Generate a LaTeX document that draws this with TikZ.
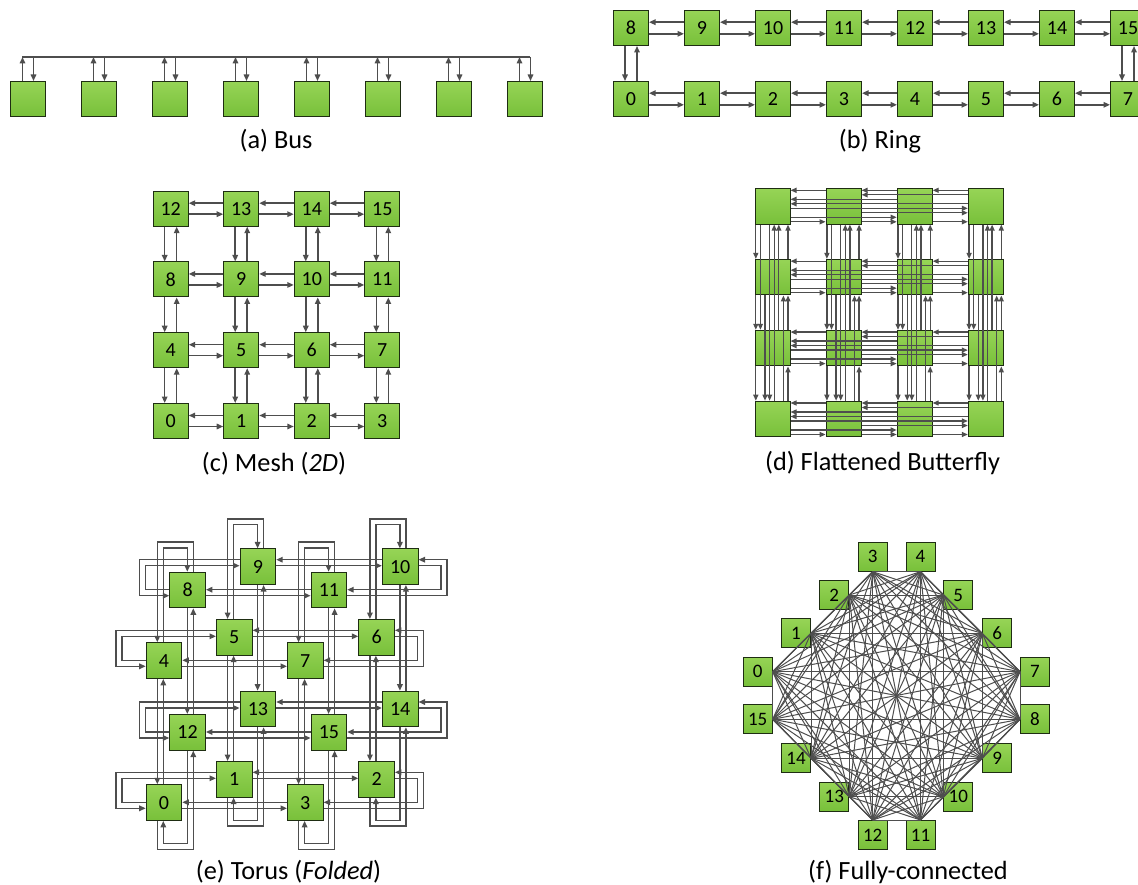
\documentclass[tikz,border=0pt]{standalone}
\usepackage{fontspec}
\setmainfont{Carlito}
\usetikzlibrary{arrows.meta,calc}
\definecolor{gtop}{RGB}{150,212,86}
\definecolor{gbot}{RGB}{120,192,58}
\definecolor{bdr}{RGB}{30,45,18}
\definecolor{lc}{RGB}{78,78,78}
\tikzset{
  nd/.style={draw=bdr, line width=1pt, top color=gtop, bottom color=gbot, minimum width=35pt, minimum height=35pt, inner sep=0pt, anchor=north west, font=\fontsize{20}{20}\selectfont},
  fcn/.style={nd, minimum width=29pt, minimum height=29pt, font=\fontsize{19}{19}\selectfont},
  ln/.style={draw=lc, line width=1.5pt},
  ar/.style={ln, -{Triangle[length=6.5pt,width=5.5pt]}},
  fl/.style={draw=lc, line width=1pt},
  captxt/.style={font=\fontsize{26.3}{26.3}\selectfont, anchor=center},
}
\newcommand\FBl[4]{\draw[ar] ($(f#1#2.north west)+(0,{2.3+4.5*#4})$) -- ($(f#1#3.north east)+(0,{2.3+4.5*#4})$);}
\newcommand\FBr[4]{\draw[ar] ($(f#1#2.north east)+(0,{2.3+4.5*#4})$) -- ($(f#1#3.north west)+(0,{2.3+4.5*#4})$);}
\newcommand\FBd[4]{\draw[ar] ($(f#2#1.south west)+({1.3+4.6*#4},0)$) -- ($(f#3#1.north west)+({1.3+4.6*#4},0)$);}
\newcommand\FBu[4]{\draw[ar] ($(f#2#1.north west)+({1.3+4.6*#4},0)$) -- ($(f#3#1.south west)+({1.3+4.6*#4},0)$);}
\newcommand\TRow[6]{%
  \pgfmathsetmacro\tya{#2-12}\pgfmathsetmacro\tyb{#2-6}\pgfmathsetmacro\tyc{#2+18}\pgfmathsetmacro\tyd{#2+24}%
  \pgfmathsetmacro\txli{#1-23.7}\pgfmathsetmacro\txlo{#1-29.6}%
  \pgfmathsetmacro\txri{#1+248.2+23.7}\pgfmathsetmacro\txro{#1+248.2+29.6}%
  \draw[ar] (t#5.west |- 0,\tya) -- (t#4.east |- 0,\tya);
  \draw[ar] (t#4.east |- 0,\tyb) -- (t#5.west |- 0,\tyb);
  \draw[ar] (t#6.west |- 0,\tyc) -- (t#3.east |- 0,\tyc);
  \draw[ar] (t#3.east |- 0,\tyd) -- (t#6.west |- 0,\tyd);
  \draw[ar] (t#3.west |- 0,\tyc) -| (\txli,\tyb) -- (t#4.west |- 0,\tyb);
  \draw[ar] (t#4.west |- 0,\tya) -| (\txlo,\tyd) -- (t#3.west |- 0,\tyd);
  \draw[ar] (t#5.east |- 0,\tyb) -| (\txri,\tyc) -- (t#6.east |- 0,\tyc);
  \draw[ar] (t#6.east |- 0,\tyd) -| (\txro,\tya) -- (t#5.east |- 0,\tya);
}
\newcommand\TCol[7]{%
  \pgfmathsetmacro\txa{#1-12}\pgfmathsetmacro\txb{#1-6}\pgfmathsetmacro\txc{#1+18}\pgfmathsetmacro\txd{#1+24}%
  \pgfmathsetmacro\tybi{#2+23.7}\pgfmathsetmacro\tybo{#2+29.6}\pgfmathsetmacro\tyti{#3-23.7}\pgfmathsetmacro\tyto{#3-29.6}%
  \draw[ar] (\txa,0 |- t#5.south) -- (\txa,0 |- t#4.north);
  \draw[ar] (\txb,0 |- t#4.north) -- (\txb,0 |- t#5.south);
  \draw[ar] (\txc,0 |- t#6.south) -- (\txc,0 |- t#7.north);
  \draw[ar] (\txd,0 |- t#7.north) -- (\txd,0 |- t#6.south);
  \draw[ar] (\txc,0 |- t#7.south) |- (\txb,\tybi) -- (\txb,0 |- t#4.south);
  \draw[ar] (\txa,0 |- t#4.south) |- (\txd,\tybo) -- (\txd,0 |- t#7.south);
  \draw[ar] (\txb,0 |- t#5.north) |- (\txc,\tyti) -- (\txc,0 |- t#6.north);
  \draw[ar] (\txd,0 |- t#6.north) |- (\txa,\tyto) -- (\txa,0 |- t#5.north);
}
\begin{document}
\begin{tikzpicture}[x=1pt,y=-1pt]
\clip (0,0) rectangle (1138,885);
\fill[white] (0,0) rectangle (1138,885);
% ---------------- (a) Bus
\foreach \i in {0,...,7}{\node[nd] (b\i) at ({10+71*\i},81) {};}
\coordinate (busL) at (22,57);
\coordinate (busR) at (530,57);
\draw[ln] (busL) -- (busR);
\foreach \i in {0,...,7}{
  \path (b\i.north) +(-5.5,0) coordinate (bu\i) +(5.5,0) coordinate (bd\i);
  \draw[ar] (bu\i) -- (bu\i |- busL);
  \draw[ar] (bd\i |- busL) -- (bd\i);
}
\node[captxt] (capa) at (276,141) {(a) Bus};
% ---------------- (b) Ring
\foreach \i in {0,...,7}{
  \pgfmathtruncatemacro\k{\i+8}
  \node[nd] (r\i) at ({613+71*\i},81) {\i};
  \node[nd] (r\k) at ({613+71*\i},10) {\k};
}
\foreach \a/\b in {0/1,1/2,2/3,3/4,4/5,5/6,6/7,8/9,9/10,10/11,11/12,12/13,13/14,14/15}{
  \draw[ar] ($(r\b.west)+(0,-5.8)$) -- ($(r\a.east)+(0,-5.8)$);
  \draw[ar] ($(r\a.east)+(0,5.8)$) -- ($(r\b.west)+(0,5.8)$);
}
\draw[ar] ($(r8.south)+(-6,0)$) -- ($(r0.north)+(-6,0)$);
\draw[ar] ($(r0.north)+(6,0)$) -- ($(r8.south)+(6,0)$);
\draw[ar] ($(r15.south)+(-6,0)$) -- ($(r7.north)+(-6,0)$);
\draw[ar] ($(r7.north)+(6,0)$) -- ($(r15.south)+(6,0)$);
\node[captxt] (capb) at (880,141) {(b) Ring};
% ---------------- (c) Mesh
\foreach \r in {0,...,3}{\foreach \c in {0,...,3}{
  \pgfmathtruncatemacro\n{4*\r+\c}
  \node[nd] (m\n) at ({152.7+70.53*\c},{403-70.77*\r}) {\n};
}}
\foreach \r in {0,...,3}{\foreach \c in {0,1,2}{
  \pgfmathtruncatemacro\a{4*\r+\c}\pgfmathtruncatemacro\b{\a+1}
  \draw[ar] ($(m\b.west)+(0,-5.5)$) -- ($(m\a.east)+(0,-5.5)$);
  \draw[ar] ($(m\a.east)+(0,5.5)$) -- ($(m\b.west)+(0,5.5)$);
}}
\foreach \r in {0,1,2}{\foreach \c in {0,...,3}{
  \pgfmathtruncatemacro\a{4*\r+\c}\pgfmathtruncatemacro\u{\a+4}
  \draw[ar] ($(m\u.south)+(-6,0)$) -- ($(m\a.north)+(-6,0)$);
  \draw[ar] ($(m\a.north)+(6,0)$) -- ($(m\u.south)+(6,0)$);
}}
\node[captxt] (capc) at (274,464) {(c) Mesh (\textit{2D})};
% ---------------- (d) Flattened Butterfly
\foreach \r in {0,...,3}{\foreach \c in {0,...,3}{
  \node[nd, minimum height=35.6pt] (f\r\c) at ({754.5+71.1*\c},{188+70.9*\r}) {};
}}
\begin{scope}[ar/.append style={line width=1.3pt, -{Triangle[length=6pt,width=5pt]}}]
\foreach \r in {0,...,3}{
  \FBl{\r}{1}{0}{0}\FBl{\r}{2}{1}{0}\FBl{\r}{3}{2}{0}
  \FBl{\r}{3}{1}{1}
  \FBl{\r}{2}{0}{2}
  \FBl{\r}{3}{0}{3}
  \FBr{\r}{0}{3}{4}
  \FBr{\r}{1}{3}{5}
  \FBr{\r}{0}{2}{6}
  \FBr{\r}{0}{1}{7}\FBr{\r}{1}{2}{7}\FBr{\r}{2}{3}{7}
}
\foreach \c in {0,...,3}{
  \FBd{\c}{0}{1}{0}\FBd{\c}{1}{2}{0}\FBd{\c}{2}{3}{0}
  \FBd{\c}{0}{2}{1}
  \FBd{\c}{1}{3}{2}
  \FBd{\c}{0}{3}{3}
  \FBu{\c}{3}{0}{4}
  \FBu{\c}{2}{0}{5}
  \FBu{\c}{3}{1}{6}
  \FBu{\c}{1}{0}{7}\FBu{\c}{2}{1}{7}\FBu{\c}{3}{2}{7}
}
\end{scope}
\node[captxt] (capd) at (882.5,463) {(d) Flattened Butterfly};
% ---------------- (e) Torus (Folded)
\foreach \n/\x/\y in {0/145.7/784.3,1/216/761,2/358.3/761,3/287/784.3,
  4/145.7/642.3,5/216/619,6/358.3/619,7/287/642.3,
  8/169.3/571.7,9/239.6/548.4,10/381.9/548.4,11/310.6/571.7,
  12/169.3/714,13/239.6/690.7,14/381.9/690.7,15/310.6/714}{
  \node[nd, minimum width=35.6pt, minimum height=35.6pt] (t\n) at (\x,\y) {\n};
}
\TRow{145.7}{784.3}{0}{1}{2}{3}
\TRow{145.7}{642.3}{4}{5}{6}{7}
\TRow{169.3}{571.7}{8}{9}{10}{11}
\TRow{169.3}{714}{12}{13}{14}{15}
\TCol{169.3}{819.9}{571.7}{0}{4}{8}{12}
\TCol{239.6}{796.6}{548.4}{1}{5}{9}{13}
\TCol{381.9}{796.6}{548.4}{2}{6}{10}{14}
\TCol{310.6}{819.9}{571.7}{3}{7}{11}{15}
\node[captxt] (cape) at (288.5,872) {(e) Torus (\textit{Folded})};
% ---------------- (f) Fully-connected
\foreach \n/\x/\y/\a in {3/857.7/541.7/south,4/905.5/541.7/south,
  2/819.3/580/east,5/943.3/580/west,1/781/618.3/east,6/982.3/618.3/west,
  0/742.7/656.7/east,7/1020/656.7/west,15/742.7/704.3/east,8/1020/704.3/west,
  14/781/743.3/east,9/982.3/743.3/west,13/819.3/781.7/east,10/943.3/781.7/west,
  12/857.7/820/north,11/905.5/820/north}{
  \node[fcn] (fc\n) at (\x,\y) {\n};
  \coordinate (cp\n) at (fc\n.\a);
}
\foreach \i in {0,...,14}{
  \pgfmathtruncatemacro\s{\i+1}
  \foreach \j in {\s,...,15}{\draw[fl] (cp\i) -- (cp\j);}
}
\node[captxt] (capf) at (908,872) {(f) Fully-connected};
\end{tikzpicture}
\end{document}
